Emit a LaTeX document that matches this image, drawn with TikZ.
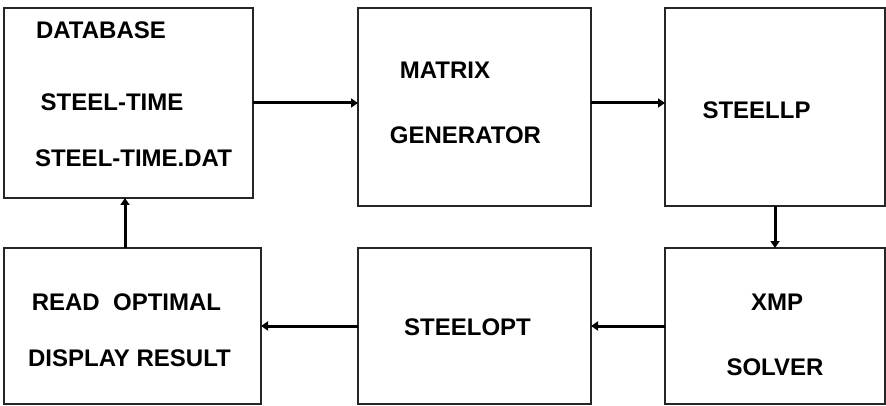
\documentclass[tikz,border=0pt]{standalone}
\usepackage{fontspec}
\setmainfont{Liberation Sans}
\usetikzlibrary{arrows.meta}
\tikzset{
  blockbox/.style={draw=black!85, line width=1.8pt, rectangle, inner sep=0pt, outer sep=0pt},
  boxtext/.style={inner sep=0pt, font=\fontsize{24}{28}\selectfont\bfseries, text=black},
  flow/.style={line width=3pt, -{Triangle[length=7pt,width=9pt]}}
}
\begin{document}
\begin{tikzpicture}[x=1pt,y=-1pt]
\useasboundingbox (0,0) rectangle (886,406);
\fill[white] (0,0) rectangle (886,406);
% boxes
\node[blockbox, minimum width=249pt, minimum height=190pt] (b1) at (128.5,103) {};
\node[blockbox, minimum width=233pt, minimum height=198pt] (b2) at (474.5,107) {};
\node[blockbox, minimum width=220pt, minimum height=198pt] (b3) at (775,107) {};
\node[blockbox, minimum width=257pt, minimum height=156pt] (b4) at (132.5,326) {};
\node[blockbox, minimum width=233pt, minimum height=156pt] (b5) at (474.5,326) {};
\node[blockbox, minimum width=220pt, minimum height=156pt] (b6) at (775,326) {};
% texts
\node[boxtext] (t1a) at (101,30) {DATABASE};
\node[boxtext] (t1b) at (112,102) {STEEL-TIME};
\node[boxtext] (t1c) at (133.5,158) {STEEL-TIME.DAT};
\node[boxtext] (t2a) at (445,70) {MATRIX};
\node[boxtext] (t2b) at (465.5,135) {GENERATOR};
\node[boxtext] (t3a) at (756.5,110) {STEELLP};
\node[boxtext] (t4a) at (126.5,302) {READ\ \ OPTIMAL};
\node[boxtext] (t4b) at (129.5,358) {DISPLAY RESULT};
\node[boxtext] (t5a) at (467.5,327) {STEELOPT};
\node[boxtext] (t6a) at (777,302) {XMP};
\node[boxtext] (t6b) at (775,367) {SOLVER};
% connectors
\draw[flow] (b1.east) -- (b1.east -| b2.west);
\draw[flow] (b2.east |- b1.east) -- (b1.east -| b3.west);
\draw[flow] (b3.south) -- (b6.north);
\draw[flow] (b6.west) -- (b5.east);
\draw[flow] (b5.west) -- (b4.east);
\coordinate (up) at ([xshift=-3.5pt]b1.south);
\draw[flow] (up |- b4.north) -- (up);
\end{tikzpicture}
\end{document}
